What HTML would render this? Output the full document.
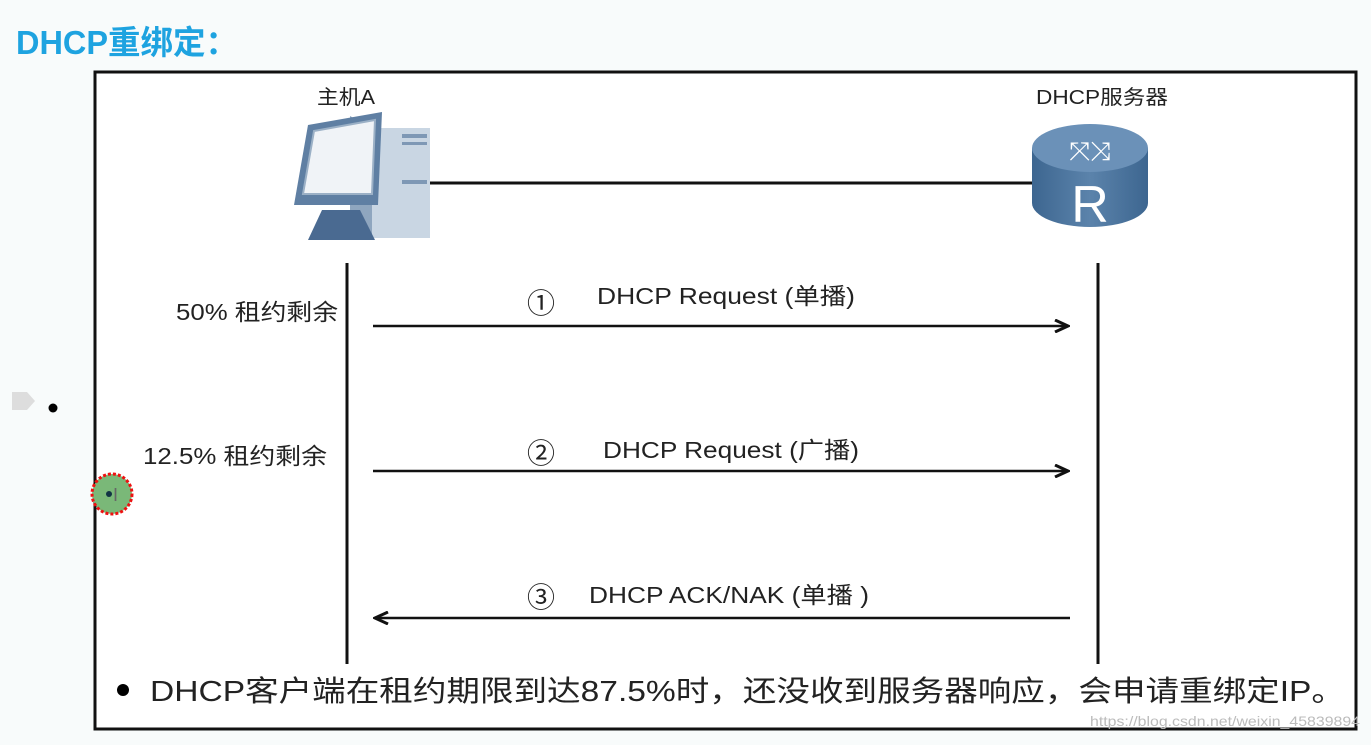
<!DOCTYPE html>
<html><head><meta charset="utf-8"><style>
body{margin:0;width:1371px;height:740px;background:#f8fbfb;overflow:hidden;font-family:"Liberation Sans","Noto Sans CJK SC",sans-serif}
</style></head><body>
<svg width="1371" height="740" xmlns="http://www.w3.org/2000/svg" font-family="Liberation Sans, Noto Sans CJK SC, sans-serif">
<defs><marker id="ar" markerWidth="16" markerHeight="14" refX="14" refY="7" orient="auto" markerUnits="userSpaceOnUse"><path d="M1,1 L14,7 L1,13" fill="none" stroke="#111" stroke-width="3"/></marker>
<linearGradient id="rg" x1="0" x2="1"><stop offset="0" stop-color="#3d6690"/><stop offset="0.5" stop-color="#5b83ab"/><stop offset="1" stop-color="#3d6690"/></linearGradient></defs>
<text x="16" y="54" font-size="33" font-weight="bold" fill="#1ea3e0" textLength="222" lengthAdjust="spacingAndGlyphs">DHCP重绑定：</text>
<rect x="95" y="72" width="1261" height="657" fill="#fff" stroke="#111" stroke-width="3"/>
<path d="M12,392 h15 l8,9 l-8,9 h-15z" fill="#ddd"/>
<circle cx="53" cy="408" r="4.5" fill="#000"/>
<circle cx="112" cy="494" r="20" fill="#7ab878" stroke="#e11" stroke-width="3" stroke-dasharray="3,2"/>
<circle cx="109" cy="494" r="3" fill="#134"/>
<text x="113" y="501" font-size="18" fill="#666">I</text>
<text x="317" y="104" font-size="20" fill="#222" textLength="58" lengthAdjust="spacingAndGlyphs">主机A</text>
<text x="1036" y="104" font-size="20" fill="#222" textLength="132" lengthAdjust="spacingAndGlyphs">DHCP服务器</text>
<line x1="430" y1="183" x2="1035" y2="183" stroke="#111" stroke-width="3"/>
<!-- computer -->
<polygon points="372,128 430,128 430,238 372,238" fill="#c9d6e3"/>
<polygon points="350,116 372,128 372,238 350,230" fill="#8fa6bf"/>
<rect x="402" y="134" width="25" height="4" fill="#7e98b5"/><rect x="402" y="142" width="25" height="3" fill="#7e98b5"/><rect x="402" y="180" width="25" height="4" fill="#7e98b5"/>
<polygon points="308,125 382,112 378,205 294,205" fill="#5f7fa3"/>
<polygon points="314,131 375,120 372,194 303,194" fill="#f0f3f7" stroke="#9bb0c6" stroke-width="2"/>
<polygon points="322,210 360,210 375,240 308,240" fill="#4a6a91"/>
<!-- router -->
<path d="M1032,148 v55 a58,24 0 0 0 116,0 v-55z" fill="url(#rg)"/>
<ellipse cx="1090" cy="148" rx="58" ry="24" fill="#6b91b8"/>
<text x="1090" y="160" font-size="26" fill="#fff" text-anchor="middle">⤧⤨</text>
<text x="1090" y="222" font-size="52" fill="#fff" text-anchor="middle">R</text>
<line x1="347" y1="263" x2="347" y2="664" stroke="#111" stroke-width="3"/>
<line x1="1098" y1="263" x2="1098" y2="664" stroke="#111" stroke-width="3"/>
<g font-size="23" fill="#222" lengthAdjust="spacingAndGlyphs">
<text x="176" y="320" textLength="162" lengthAdjust="spacingAndGlyphs">50% 租约剩余</text>
<text x="143" y="464" textLength="184" lengthAdjust="spacingAndGlyphs">12.5% 租约剩余</text>
<text x="527" y="313" font-size="28">①</text><text x="597" y="304" textLength="258" lengthAdjust="spacingAndGlyphs">DHCP Request (单播)</text>
<text x="527" y="463" font-size="28">②</text><text x="603" y="458" textLength="256" lengthAdjust="spacingAndGlyphs">DHCP Request (广播)</text>
<text x="527" y="607" font-size="28">③</text><text x="589" y="603" textLength="280" lengthAdjust="spacingAndGlyphs">DHCP ACK/NAK (单播 )</text>
</g>
<line x1="373" y1="326" x2="1068" y2="326" stroke="#111" stroke-width="2.5" marker-end="url(#ar)"/>
<line x1="373" y1="471" x2="1068" y2="471" stroke="#111" stroke-width="2.5" marker-end="url(#ar)"/>
<line x1="1070" y1="618" x2="375" y2="618" stroke="#111" stroke-width="2.5" marker-end="url(#ar)"/>
<circle cx="123" cy="690" r="6" fill="#000"/>
<text x="150" y="701" font-size="29" fill="#222" textLength="1195" lengthAdjust="spacingAndGlyphs">DHCP客户端在租约期限到达87.5%时，还没收到服务器响应，会申请重绑定IP。</text>
<text x="1090" y="726" font-size="14" fill="#bbb" textLength="270" lengthAdjust="spacingAndGlyphs">https://blog.csdn.net/weixin_45839894</text>
</svg>
</body></html>
